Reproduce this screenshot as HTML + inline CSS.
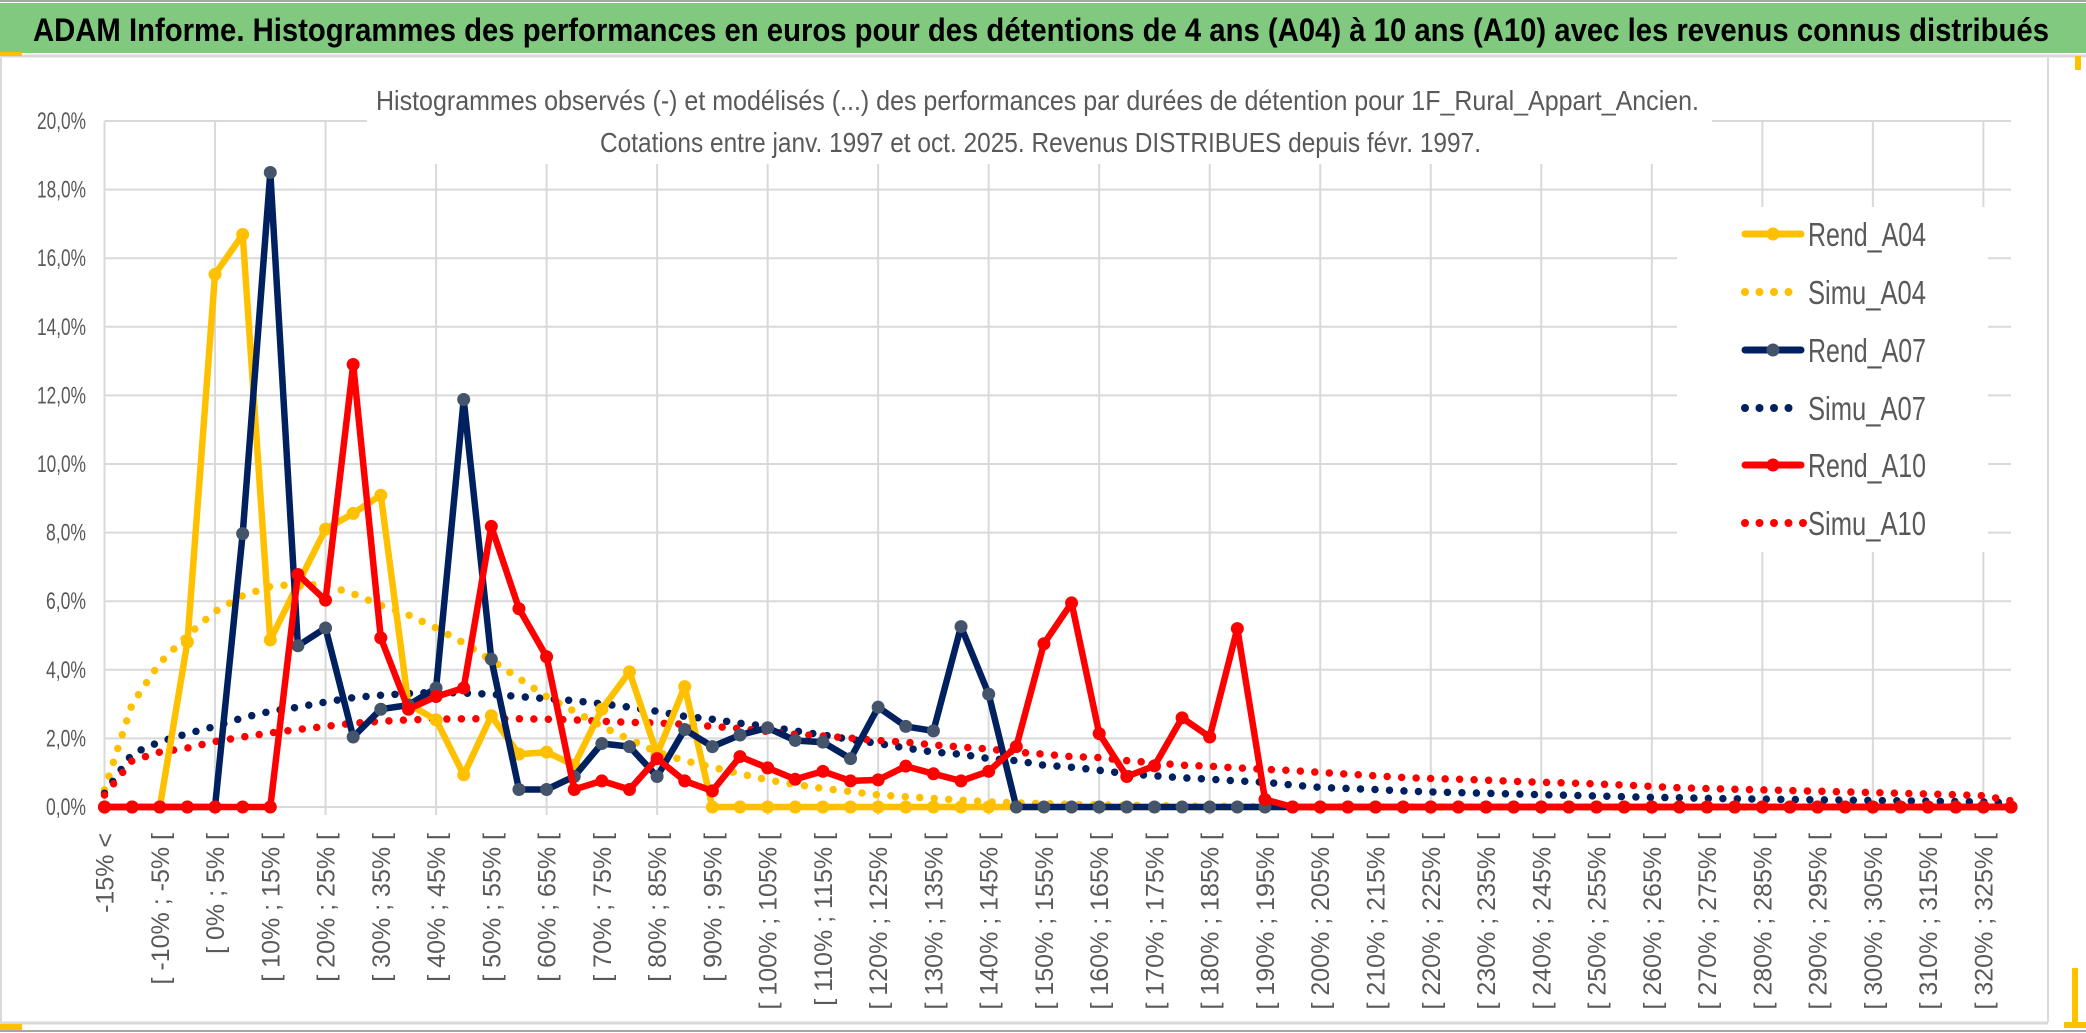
<!DOCTYPE html>
<html><head><meta charset="utf-8"><style>
html,body{margin:0;padding:0;background:#fff;}
svg{display:block;}
text{font-family:"Liberation Sans Narrow","Liberation Sans",sans-serif;}
</style></head><body>
<svg id="chart" width="2086" height="1033" viewBox="0 0 2086 1033" xmlns="http://www.w3.org/2000/svg">
<rect x="0" y="0" width="2086" height="1033" fill="#fff"/>
<line x1="0" y1="1" x2="2086" y2="1" stroke="#a6a6a6" stroke-width="2"/>
<rect x="0" y="3" width="2086" height="50" fill="#80c97f"/>
<line x1="0" y1="56" x2="2086" y2="56" stroke="#d9d9d9" stroke-width="3"/>
<rect x="0" y="52" width="22" height="4" fill="#ffc000"/>
<text x="33" y="41" font-size="32" font-weight="bold" fill="#000" textLength="2016" lengthAdjust="spacingAndGlyphs">ADAM Informe. Histogrammes des performances en euros pour des détentions de 4 ans (A04) à 10 ans (A10) avec les revenus connus distribués</text>
<line x1="2048" y1="58" x2="2048" y2="1022" stroke="#d9d9d9" stroke-width="2"/>
<line x1="1" y1="58" x2="1" y2="1022" stroke="#d9d9d9" stroke-width="2"/>
<line x1="0" y1="1023" x2="2048" y2="1023" stroke="#d9d9d9" stroke-width="3"/>
<line x1="0" y1="1031" x2="2086" y2="1031" stroke="#a6a6a6" stroke-width="2"/>
<rect x="0" y="1024" width="22" height="6" fill="#ffc000"/>
<rect x="2072" y="968" width="6" height="58" fill="#ffc000"/>
<rect x="2064" y="1022" width="22" height="6" fill="#ffc000"/>
<rect x="2075" y="56" width="6" height="14" fill="#ffc000"/>
<g id="grid"></g>
<g id="ylabels"></g>
<g id="xlabels"></g>
<rect x="367" y="60" width="1345" height="104" fill="#fff"/>
<text x="376" y="110" font-size="28" fill="#595959" textLength="1323" lengthAdjust="spacingAndGlyphs">Histogrammes observés (-) et modélisés (...) des performances par durées de détention pour 1F_Rural_Appart_Ancien.</text>
<text x="600" y="152" font-size="28" fill="#595959" textLength="881" lengthAdjust="spacingAndGlyphs">Cotations entre janv. 1997 et oct. 2025. Revenus DISTRIBUES depuis févr. 1997.</text>
<g id="series"></g>
<g id="legend"></g>
</svg>
<script>
const lowerBounds = [null,-15,-10,-5,0,5,10,15,20,25,30,35,40,45,50,55,60,65,70,75,80,85,90,95,100,105,110,115,120,125,130,135,140,145,150,155,160,165,170,175,180,185,190,195,200,205,210,215,220,225,230,235,240,245,250,255,260,265,270,275,280,285,290,295,300,305,310,315,320,325];
const yTicks = [0,2,4,6,8,10,12,14,16,18,20];
const yTickLabels = ["0,0%","2,0%","4,0%","6,0%","8,0%","10,0%","12,0%","14,0%","16,0%","18,0%","20,0%"];
const rendA04 = [0,0,0,4.81,15.53,16.69,4.87,6.5,8.1,8.56,9.09,3.0,2.54,0.94,2.66,1.54,1.6,1.22,2.85,3.94,1.54,3.51,0,0,0,0,0,0,0,0,0,0,0,0,0,0,0,0,0,0,0,0,0,0,0,0,0,0,0,0,0,0,0,0,0,0,0,0,0,0,0,0,0,0,0,0,0,0,0,0];
const simuA04 = [0.5,3.0,4.2,5.0,5.7,6.16,6.43,6.5,6.47,6.22,5.88,5.6,5.22,4.78,4.28,3.75,3.22,2.79,2.35,1.97,1.6,1.35,1.16,0.97,0.79,0.66,0.54,0.45,0.35,0.3,0.25,0.2,0.15,0.12,0.1,0.08,0.06,0.05,0.04,0.03,0.02,0.02,0.01,0,0,0,0,0,0,0,0,0,0,0,0,0,0,0,0,0,0,0,0,0,0,0,0,0,0,0];
const rendA07 = [0,0,0,0,0,7.97,18.5,4.7,5.22,2.04,2.85,2.97,3.47,11.88,4.31,0.51,0.51,0.89,1.85,1.76,0.89,2.26,1.76,2.1,2.31,1.94,1.89,1.41,2.91,2.35,2.22,5.26,3.29,0,0,0,0,0,0,0,0,0,0,0,0,0,0,0,0,0,0,0,0,0,0,0,0,0,0,0,0,0,0,0,0,0,0,0,0,0];
const simuA07 = [0.4,1.55,1.9,2.14,2.35,2.6,2.79,2.91,3.06,3.19,3.26,3.31,3.35,3.32,3.29,3.22,3.16,3.1,3.01,2.91,2.79,2.64,2.56,2.44,2.35,2.22,2.1,1.97,1.85,1.72,1.6,1.54,1.41,1.35,1.22,1.16,1.07,0.97,0.91,0.85,0.81,0.76,0.72,0.64,0.57,0.54,0.51,0.47,0.44,0.42,0.40,0.38,0.36,0.34,0.32,0.30,0.28,0.27,0.25,0.24,0.23,0.22,0.21,0.20,0.19,0.18,0.17,0.16,0.15,0.12];
const rendA10 = [0,0,0,0,0,0,0,6.78,6.03,12.9,4.93,2.85,3.22,3.47,8.18,5.78,4.38,0.51,0.76,0.51,1.41,0.76,0.47,1.47,1.14,0.81,1.04,0.76,0.79,1.19,0.97,0.76,1.04,1.76,4.76,5.95,2.14,0.89,1.2,2.6,2.04,5.2,0.22,0,0,0,0,0,0,0,0,0,0,0,0,0,0,0,0,0,0,0,0,0,0,0,0,0,0,0];
const simuA10 = [0.35,1.35,1.6,1.72,1.91,2.04,2.16,2.26,2.35,2.44,2.5,2.54,2.56,2.57,2.57,2.57,2.56,2.54,2.5,2.47,2.45,2.41,2.35,2.29,2.2,2.12,2.07,2.01,1.94,1.89,1.81,1.75,1.69,1.6,1.54,1.47,1.44,1.35,1.29,1.22,1.19,1.14,1.1,1.06,1.01,0.96,0.91,0.86,0.83,0.81,0.78,0.75,0.72,0.70,0.67,0.64,0.60,0.56,0.54,0.52,0.50,0.48,0.46,0.44,0.42,0.40,0.38,0.36,0.33,0.18];
const seriesNames = ["Simu_A04","Simu_A07","Simu_A10","Rend_A04","Rend_A07","Rend_A10"];

const NS = "http://www.w3.org/2000/svg";
const X0 = 104.5, X1 = 2011, Y0 = 807, YMAXPX = 121, YMAX = 20;
const n = lowerBounds.length;
function xs(i){ return X0 + i*(X1-X0)/(n-1); }
function ys(v){ return Y0 - v*(Y0-YMAXPX)/YMAX; }
function mk(tag, attrs, parent){ const e=document.createElementNS(NS,tag); for(const k in attrs) e.setAttribute(k,attrs[k]); parent.appendChild(e); return e; }
function catLabel(i){ const l=lowerBounds[i]; return l===null ? "-15% <" : "[ "+l+"% ; "+(l+5)+"% ["; }

const grid=document.getElementById('grid');
yTicks.forEach(t=>{
  const l=mk('line',{x1:X0,x2:X1,y1:ys(t),y2:ys(t),stroke:'#d9d9d9','stroke-width':2},grid);
  
  
});
for(let i=0;i<n;i+=4){
  const l=mk('line',{x1:xs(i),x2:xs(i),y1:ys(YMAX),y2:Y0+8,stroke:'#d9d9d9','stroke-width':2},grid);
  
  
}
const yl=document.getElementById('ylabels');
yTicks.forEach((t,k)=>{
  const tx=mk('text',{x:86,y:ys(t)+8,'text-anchor':'end','font-size':24,fill:'#595959',textLength:yTickLabels[k].length>4?49:40,lengthAdjust:'spacingAndGlyphs'},yl);
  tx.textContent=yTickLabels[k];
  
  
});
const xl=document.getElementById('xlabels');
for(let i=0;i<n;i+=2){
  const x=xs(i)+9, y=833;
  const tx=mk('text',{x:x,y:y,'text-anchor':'end','font-size':25,fill:'#595959',transform:'rotate(-90 '+x+' '+y+')'},xl);
  tx.style.fontFamily='"Liberation Sans",sans-serif';
  tx.textContent=catLabel(i);
  
  
}

const sg=document.getElementById('series');
function pts(arr){ return arr.map((v,i)=>xs(i).toFixed(1)+','+ys(v).toFixed(1)).join(' '); }
function dotted(arr,color,name){
  const p=mk('polyline',{points:pts(arr),fill:'none',stroke:color,'stroke-width':7.5,'stroke-linecap':'round','stroke-dasharray':'0 14.5'},sg);
  
  
}
function solid(arr,color,mcolor,name){
  const g=mk('g',{},sg);
  
  
  mk('polyline',{points:pts(arr),fill:'none',stroke:color,'stroke-width':6.5,'stroke-linejoin':'round'},g);
  arr.forEach((v,i)=>{
    const c=mk('circle',{cx:xs(i),cy:ys(v),r:6.5,fill:mcolor},g);
    
    
  });
}
dotted(simuA04,'#ffc000','series-simu-a04');
dotted(simuA07,'#002060','series-simu-a07');
dotted(simuA10,'#ff0000','series-simu-a10');
solid(rendA04,'#ffc000','#ffc000','series-rend-a04');
solid(rendA07,'#002060','#44546a','series-rend-a07');
solid(rendA10,'#ff0000','#ff0000','series-rend-a10');

const lg=document.getElementById('legend');
mk('rect',{x:1677,y:207,width:311,height:345,fill:'#fff'},lg);
const legendItems=[["Rend_A04","#ffc000","#ffc000",true],["Simu_A04","#ffc000","#ffc000",false],["Rend_A07","#002060","#44546a",true],["Simu_A07","#002060","#002060",false],["Rend_A10","#ff0000","#ff0000",true],["Simu_A10","#ff0000","#ff0000",false]];
const rowsY=[234,292,350,408,465,523];
legendItems.forEach((it,k)=>{
  const y=rowsY[k];
  const g=mk('g',{},lg);
  
  
  if(it[3]){
    mk('line',{x1:1745,x2:1801,y1:y,y2:y,stroke:it[1],'stroke-width':7,'stroke-linecap':'round'},g);
    mk('circle',{cx:1773,cy:y,r:6.5,fill:it[2]},g);
  } else {
    const cnt = k===5?5:4;
    for(let d=0;d<cnt;d++) mk('circle',{cx:1745+d*14.5,cy:y,r:4,fill:it[1]},g);
  }
  const t=mk('text',{x:1808,y:y+12,'font-size':33,fill:'#595959',textLength:118,lengthAdjust:'spacingAndGlyphs'},g);
  t.textContent=it[0];
});
</script>
</body></html>
